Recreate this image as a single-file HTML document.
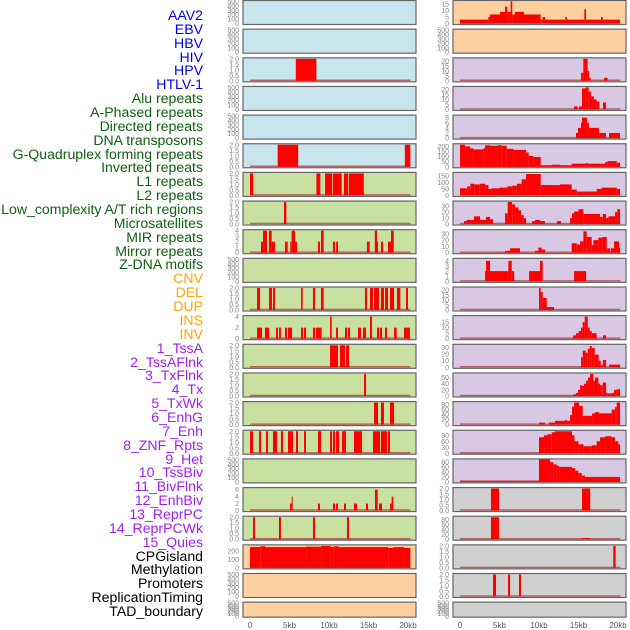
<!DOCTYPE html>
<html><head><meta charset="utf-8">
<style>
body{margin:0;width:630px;height:630px;overflow:hidden;background:#fff;font-family:"Liberation Sans",sans-serif}
#labels{position:absolute;left:0;top:0;width:203px;height:630px}
.lb{position:absolute;right:0;font-size:14.1px;line-height:14px;white-space:nowrap}
svg{position:absolute;left:0;top:0}
</style></head><body>
<div id="labels"></div>
<svg id="chart" width="630" height="630"></svg>
<script>
const trackLabels=["AAV2","EBV","HBV","HIV","HPV","HTLV-1","Alu repeats","A-Phased repeats","Directed repeats","DNA transposons","G-Quadruplex forming repeats","Inverted repeats","L1 repeats","L2 repeats","Low_complexity A/T rich regions","Microsatellites","MIR repeats","Mirror repeats","Z-DNA motifs","CNV","DEL","DUP","INS","INV","1_TssA","2_TssAFlnk","3_TxFlnk","4_Tx","5_TxWk","6_EnhG","7_Enh","8_ZNF_Rpts","9_Het","10_TssBiv","11_BivFlnk","12_EnhBiv","13_ReprPC","14_ReprPCWk","15_Quies","CPGisland","Methylation","Promoters","ReplicationTiming","TAD_boundary"];
const labelGroups=[6,13,5,15,5];
const groupColors=["#0000ee","#106010","#ffa500","#a020f0","#000000"];
const xTickLabels=["0","5kb","10kb","15kb","20kb"];
const xTickValues=[0,5,10,15,20];
const T500=[0,100,200,300,400,500],T2=[0,0.5,1,1.5,2];
const leftYMax=[500,500,2,500,500,2,2,2,4,500,2,4,2,2,2,2,500,6.3,2,260,500,500];
const leftTicks=[T500,T500,T2,T500,T500,T2,T2,T2,[0,1,2,3,4],T500,T2,[0,2,4],T2,T2,T2,T2,T500,[0,2,4,6],T2,[0,100,200],T500,T500];
const leftBars=[[],[],[[5.8,8.4,2]],[],[],[[3.5,6.1,2],[19.6,20.3,2]],
[[0,0.4,2],[8.4,8.9,2],[9.5,10.4,2],[10.5,11.6,2],[11.9,12.4,2],[12.5,14.4,2]],
[[4.3,4.6,2]],
[[1.39,1.65,2],[1.65,2.15,4],[2.4,2.74,4],[2.74,3.16,2],[4.43,4.77,2],[5.1,5.27,2],[5.27,5.7,4],[5.7,5.95,2],[8.6,8.86,2],[8.99,9.32,4],[10.5,10.76,2],[10.9,11.14,2],[14.8,15.15,2],[15.8,16.08,4],[16.08,16.16,2],[16.58,16.84,2],[17.47,17.85,2],[17.85,18.19,4]],
[],
[[0.89,1.27,2],[2.41,2.78,2],[2.91,3.16,2],[6.46,6.67,2],[7.97,8.23,2],[8.99,9.32,2],[14.56,14.81,2],[15.19,15.57,2],[15.7,16.33,2],[16.58,16.96,2],[17.09,17.47,2],[17.72,18.23,2],[18.61,19.03,2],[19.75,20.0,2]],
[[0.89,1.52,2],[1.9,2.41,2],[3.29,3.54,2],[3.67,3.92,2],[4.43,4.68,2],[4.81,5.32,2],[6.46,6.71,2],[6.84,7.09,2],[7.97,8.23,2],[8.35,9.07,2],[10.13,10.34,4],[10.89,11.14,2],[12.03,12.28,2],[12.41,12.66,2],[13.67,14.05,2],[14.3,14.68,2],[15.19,15.44,4],[16.08,16.33,2],[16.46,16.71,2],[17.09,17.34,2],[18.23,18.57,2],[19.49,20.25,2]],
[[10.13,11.14,2],[11.39,12.03,2],[12.15,12.53,2]],
[[14.43,14.68,2]],
[[15.7,16.2,2],[16.58,16.96,2],[17.72,18.23,2]],
[[0,0.38,2],[1.14,1.39,2],[2.03,2.28,2],[2.91,3.42,2],[3.92,4.18,2],[4.81,5.44,2],[5.82,6.08,2],[6.84,7.09,2],[8.6,8.99,2],[10.13,10.38,2],[10.5,10.76,2],[10.89,11.27,2],[11.65,12.15,2],[13.16,14.18,2],[15.57,16.46,2],[16.58,17.34,2],[17.47,17.72,2]],
[],
[[5.06,5.27,2],[5.27,5.4,4],[8.6,8.86,2],[10.5,10.76,2],[10.89,11.14,2],[11.9,12.15,2],[13.16,13.54,2],[14.68,14.94,2],[15.82,16.16,6],[16.33,16.71,2],[17.72,17.93,2],[17.93,18.14,4]],
[[0.38,0.63,2],[3.67,3.92,2],[7.97,8.23,2],[12.28,12.53,2]],
[[0,1.3,245],[1.3,1.9,255],[1.9,7.1,245],[7.1,9.0,250],[9.0,10.2,258],[10.2,10.6,248],[10.6,11.2,255],[11.2,17.5,245],[17.5,18.1,235],[18.1,19.5,245],[19.5,20.3,235]],
[],[]];
const leftBg=["#c8e4ec","#c8e4ec","#c8e4ec","#c8e4ec","#c8e4ec","#c8e4ec","#c8e0a0","#c8e0a0","#c8e0a0","#c8e0a0","#c8e0a0","#c8e0a0","#c8e0a0","#c8e0a0","#c8e0a0","#c8e0a0","#c8e0a0","#c8e0a0","#c8e0a0","#ffd09f","#ffd09f","#ffd09f"];
const rightYMax=[17,500,22,22,8.6,215,170,37,35,4.3,22,20,33,72,88,110,88,2,90,2,2,500];
const rightTicks=[[0,5,10,15],T500,[0,5,10,15,20],[0,5,10,15,20],[0,2,4,6,8],[0,50,100,150,200],[0,50,100,150],[0,10,20,30],[0,10,20,30],[0,1,2,3,4],[0,5,10,15,20],[0,5,10,15],[0,10,20,30],[0,20,40,60],[0,20,40,60,80],[0,30,60,90],[0,20,40,60,80],T2,[0,20,40,60,80],T2,T2,T500];
const rightBars=[
[[0,3.59,3],[3.59,3.8,5],[3.8,5.06,7],[5.06,5.7,9],[5.7,5.99,13],[5.99,6.41,9],[6.41,6.62,17],[6.62,6.96,7],[6.96,8.1,9],[8.1,10.21,7],[10.21,10.46,3],[10.46,10.76,5],[10.76,13.33,3],[13.33,13.54,5],[13.54,15.74,3],[15.74,15.95,11],[15.95,17.85,3],[17.85,18.06,5],[18.06,20.25,3]],
[],
[[15.32,15.61,8],[15.61,16.16,22],[16.16,16.33,10],[16.33,16.54,3],[18.23,18.69,3]],
[[14.43,14.9,3],[15.06,15.44,3],[15.44,15.91,21],[15.91,16.29,22],[16.29,16.58,18],[16.58,16.96,13],[16.96,17.3,10],[17.3,17.64,8],[18.1,18.48,7]],
[[14.68,14.93,2],[14.93,15.32,4],[15.32,15.44,6],[15.44,16.08,8],[16.08,16.33,6],[16.33,17.6,4],[17.6,18.48,2],[18.86,20.25,2]],
[[0,0.64,215],[0.64,1.27,200],[1.27,1.69,180],[1.69,2.96,170],[2.96,3.17,180],[3.17,3.8,210],[3.8,4.73,205],[4.73,5.28,210],[5.28,5.91,205],[5.91,6.76,175],[6.76,8.36,165],[8.36,8.7,140],[8.7,9.29,105],[9.29,10.22,95],[10.22,11.61,15],[11.61,12.66,20],[12.66,14.14,15],[14.14,15.91,30],[15.91,16.17,35],[16.17,18.36,30],[18.36,18.66,45],[18.66,19.84,55],[19.84,20.26,40]],
[[0,0.9,55],[0.9,1.3,70],[1.3,1.8,90],[1.8,2.5,85],[2.5,3.2,90],[3.2,3.6,80],[3.6,4.0,50],[4.0,5.0,55],[5.0,6.0,60],[6.0,6.6,70],[6.6,7.2,75],[7.2,7.8,90],[7.8,8.36,125],[8.36,10.22,165],[10.22,12.66,80],[12.66,14.14,85],[14.14,14.78,45],[14.78,17.3,30],[17.3,17.9,50],[17.9,19.84,60],[19.84,20.26,50]],
[[0.5,0.85,5],[0.85,1.78,7],[1.78,2.54,13],[2.54,3.3,7],[3.3,3.8,12],[3.8,4.18,8],[5.7,6.04,18],[6.04,6.6,37],[6.6,6.97,33],[6.97,7.4,28],[7.4,7.73,23],[7.73,8.06,15],[8.06,8.36,10],[9.12,9.5,5],[9.5,10.13,7],[10.13,10.76,5],[12.28,12.79,5],[13.93,14.18,10],[14.18,14.44,18],[14.44,14.99,21],[14.99,15.62,25],[15.62,16.46,17],[16.46,17.73,17],[17.73,18.07,12],[18.07,18.49,17],[18.49,18.78,10],[18.78,19.63,13],[19.63,19.92,20],[19.92,20.26,25]],
[[5.7,6.33,3],[6.33,7.6,7],[9.5,9.92,3],[9.92,10.34,8],[10.34,10.76,5],[14.14,14.78,15],[14.78,15.2,13],[15.2,15.62,18],[15.62,16.04,34],[16.04,16.67,25],[16.67,16.88,12],[16.88,17.52,20],[17.52,18.07,24],[18.07,18.57,25],[18.57,18.99,7],[19.08,19.5,7],[19.5,20.13,18],[20.13,20.26,8]],
[[3.17,3.3,2],[3.3,3.8,4],[3.8,6.12,2],[6.12,6.55,4],[6.55,6.85,2],[8.74,10.13,2],[10.13,10.47,4],[14.44,15.96,2]],
[[10.0,10.22,22],[10.22,10.47,18],[10.47,10.98,12],[10.98,11.9,3]],
[[14.31,14.69,3],[14.69,15.03,5],[15.03,15.32,7],[15.32,15.53,10],[15.53,15.79,15],[15.79,16.17,20],[16.17,16.42,10],[16.42,16.67,7],[16.67,17.3,5],[18.1,18.49,3]],
[[15.32,15.53,15],[15.53,15.91,25],[15.91,16.17,22],[16.17,16.42,28],[16.42,16.67,32],[16.67,17.05,29],[17.05,17.56,19],[17.56,17.81,10],[17.81,18.07,4],[18.1,18.49,11],[18.87,20.26,4]],
[[14.31,14.69,5],[14.69,14.94,10],[14.94,15.2,20],[15.2,15.45,35],[15.45,15.7,33],[15.7,15.96,40],[15.96,16.21,50],[16.21,16.46,60],[16.46,16.88,72],[16.88,17.09,50],[17.09,17.52,60],[17.52,17.73,40],[17.73,18.07,35],[18.07,18.49,44],[18.49,18.66,10],[18.66,19.2,8],[19.2,19.5,10],[19.5,19.84,20],[19.84,20.26,22]],
[[10.0,10.76,8],[11.27,12.03,8],[12.03,13.3,15],[13.3,13.55,18],[13.55,13.93,15],[13.93,14.18,38],[14.18,14.44,72],[14.44,15.07,88],[15.07,15.53,75],[15.53,16.72,35],[16.72,17.09,45],[17.09,17.6,50],[17.6,19.2,45],[19.2,19.63,60],[19.63,19.84,70],[19.84,20.26,88]],
[[10.0,10.64,80],[10.64,11.06,90],[11.06,11.61,95],[11.61,12.03,105],[12.03,14.18,110],[14.18,14.48,90],[14.48,14.99,60],[14.99,15.62,45],[15.62,16.67,35],[16.67,17.3,40],[17.3,17.73,60],[17.73,18.36,80],[18.36,19.2,85],[19.2,19.63,80],[19.63,20.05,60],[20.05,20.26,45]],
[[0,10.0,5],[10.0,11.4,90],[11.4,11.82,80],[11.82,12.24,70],[12.24,12.54,65],[12.54,14.18,60],[14.18,14.56,55],[14.56,14.99,45],[14.99,15.41,35],[15.41,15.83,25],[15.83,20.26,20]],
[[3.92,4.94,2],[15.44,16.49,2]],
[[3.92,4.94,90],[15.44,16.49,5]],
[[19.4,19.7,2]],
[[4.18,4.56,2],[6.08,6.33,2],[7.47,7.72,2]],
[]];
const rightBg=["#ffd09f","#ffd09f","#d8c8e4","#d8c8e4","#d8c8e4","#d8c8e4","#d8c8e4","#d8c8e4","#d8c8e4","#d8c8e4","#d8c8e4","#d8c8e4","#d8c8e4","#d8c8e4","#d8c8e4","#d8c8e4","#d8c8e4","#d0d0d0","#d0d0d0","#d0d0d0","#d0d0d0","#d0d0d0"];

const NS="http://www.w3.org/2000/svg";
const svg=document.getElementById('chart');
function mk(tag,attrs,parent){const e=document.createElementNS(NS,tag);for(const k in attrs)e.setAttribute(k,attrs[k]);(parent||svg).appendChild(e);return e;}
const labDiv=document.getElementById('labels');
let gi=0,cnt=0;
trackLabels.forEach((t,i)=>{
  while(cnt>=labelGroups[gi]){cnt=0;gi++;}
  cnt++;
  const d=document.createElement('div');
  d.className='lb';d.textContent=t;
  d.style.top=(15+i*13.86-7)+'px';d.style.color=groupColors[gi];
  
  
  labDiv.appendChild(d);
});
function xScale(x0,kb){return x0+kb*7.9;}
function drawColumn(px,x0,yMaxArr,ticksArr,barsArr,bgArr,side){
  for(let r=0;r<22;r++){
    const top=r*28.65, h=(r==21?15:24);
    const g=mk('g',{});
    
    
    mk('rect',{x:px,y:top+0.5,width:173,height:h,fill:bgArr[r],stroke:'#666','stroke-width':1.2},g);
    const y0=top+h-0.5, y1=top+1.5;
    const ys=v=>y0-(v/yMaxArr[r])*(y0-y1);
    ticksArr[r].forEach(tv=>{
      const t=mk('text',{x:px-4,y:ys(tv)+2.5,'font-size':7,fill:'#888','text-anchor':'end'},g);
      t.textContent=(ticksArr[r]===T2)?tv.toFixed(1):String(tv);
      
      
    });
    const bars=barsArr[r];
    if(bars.length){
      const bl=mk('line',{x1:xScale(x0,0),x2:xScale(x0,20.3),y1:y0-0.5,y2:y0-0.5,stroke:'#b03030','stroke-width':1.5,opacity:0.7},g);
      
      
    }
    bars.forEach(b=>{
      const xa=xScale(x0,b[0]),xb=xScale(x0,b[1]);
      const rc=mk('rect',{x:xa,y:ys(b[2]),width:Math.max(1,xb-xa),height:y0-ys(b[2]),fill:'#ff0000'},g);
      
      
    });
  }
  xTickValues.forEach((v,i)=>{
    const t=mk('text',{x:xScale(x0,v),y:628,'font-size':8,fill:'#555','text-anchor':'middle'});
    t.textContent=xTickLabels[i];
    
    
  });
}
drawColumn(243,250,leftYMax,leftTicks,leftBars,leftBg,'left');
drawColumn(453,460,rightYMax,rightTicks,rightBars,rightBg,'right');
</script>
</body></html>
